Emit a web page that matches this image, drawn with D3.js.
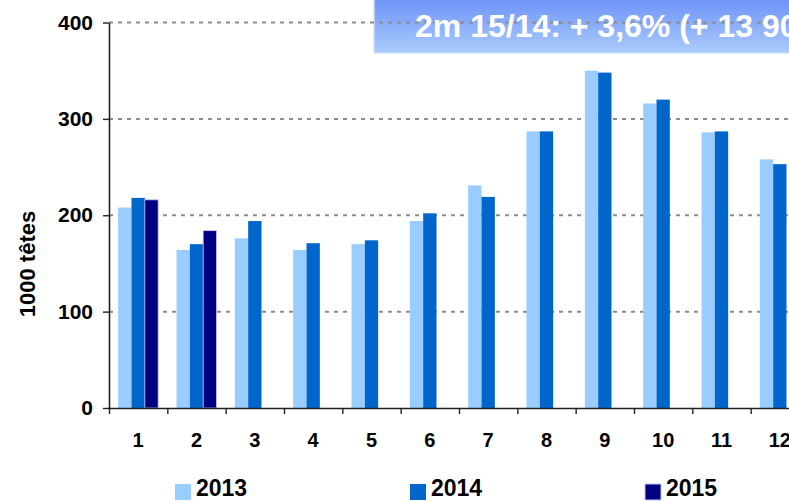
<!DOCTYPE html>
<html>
<head>
<meta charset="utf-8">
<script src="https://cdn.jsdelivr.net/npm/d3@7"></script>
<style>
  body { margin: 0; background: #fff; }
  svg { display: block; font-family: "Liberation Sans", Arial, sans-serif; }
</style>
</head>
<body>
<svg id="chart" width="789" height="501"></svg>
<script>
const months = ["1", "2", "3", "4", "5", "6", "7", "8", "9", "10", "11", "12"];
const years = ["2013", "2014", "2015"];
const v2013 = [208, 164, 176, 164, 170, 194, 231, 287, 350, 316, 286, 258];
const v2014 = [218, 170, 194, 171, 174, 202, 219, 287, 348, 320, 287, 253];
const v2015 = [216, 184];
const yTicks = [0, 100, 200, 300, 400];
const titleText = "2m 15/14: + 3,6% (+ 13 900 têtes)";
const colors = ["#99ccff", "#0066cc", "#000080"];

const series = [v2013, v2014, v2015];
const rows = [];
series.forEach((vals, s) => {
  vals.forEach((v, i) => rows.push({ month: months[i], year: years[s], value: v }));
});

const svg = d3.select("#chart");
const plotLeft = 109, plotRight = 809, plotTop = 22.5, plotBottom = 408;

const y = d3.scaleLinear().domain([0, 400]).range([plotBottom, plotTop]);
const x0 = d3.scaleBand().domain(months).range([plotLeft, plotRight])
  .paddingInner(0.315).paddingOuter(0.1575);
const x1 = d3.scaleBand().domain(years).range([0, x0.bandwidth()]);
const xEdge = d3.scaleLinear().domain([0, months.length]).range([plotLeft, plotRight]);
const color = d3.scaleOrdinal().domain(years).range(colors);

// title box
const defs = svg.append("defs");
const grad = defs.append("linearGradient").attr("id", "boxGrad")
  .attr("x1", 0).attr("y1", 0).attr("x2", 0).attr("y2", 1);
grad.append("stop").attr("offset", "0%").attr("stop-color", "#6c92f8");
grad.append("stop").attr("offset", "100%").attr("stop-color", "#aacbfc");

svg.append("rect")
  .attr("x", 374).attr("y", -3)
  .attr("width", 430).attr("height", 56)
  .attr("fill", "url(#boxGrad)")
  .attr("stroke", "#cfe0fe").attr("stroke-width", 1.5);

// gridlines
svg.append("g").selectAll("line")
  .data(yTicks.filter(d => d > 0))
  .enter().append("line")
  .attr("x1", plotLeft).attr("x2", 789)
  .attr("y1", d => y(d)).attr("y2", d => y(d))
  .attr("stroke", "#8c8c8c")
  .attr("stroke-width", 2)
  .attr("stroke-dasharray", "4,5");

svg.append("text")
  .attr("x", 415).attr("y", 37)
  .attr("fill", "#fff")
  .attr("font-size", 32).attr("font-weight", "bold")
  .text(titleText);

// bars
svg.append("g").selectAll("rect")
  .data(rows)
  .enter().append("rect")
  .attr("x", d => x0(d.month) + x1(d.year))
  .attr("y", d => y(d.value))
  .attr("width", x1.bandwidth())
  .attr("height", d => y(0) - y(d.value))
  .attr("fill", d => color(d.year))
  .attr("stroke", d => d.year == "2015" ? "#c4c4ec" : "none")
  .attr("stroke-width", 0.8);

// y axis
const yAxis = svg.append("g")
  .attr("transform", `translate(${plotLeft},0)`)
  .call(d3.axisLeft(y).tickValues(yTicks).tickSize(6).tickSizeOuter(0).tickPadding(10));
yAxis.select(".domain").attr("stroke", "#222").attr("stroke-width", 1.6);
yAxis.selectAll(".tick line").attr("stroke", "#222").attr("stroke-width", 1.4);
yAxis.selectAll("text")
  .attr("font-size", 21).attr("font-weight", "bold").attr("fill", "#000")
  .attr("font-family", "'Liberation Sans', Arial, sans-serif");

// x axis line + ticks between categories
const xAxis = svg.append("g")
  .attr("transform", `translate(0,${plotBottom})`)
  .call(d3.axisBottom(xEdge).tickValues(d3.range(0, months.length + 1))
    .tickFormat("").tickSize(6).tickSizeOuter(0));
xAxis.select(".domain").attr("stroke", "#222").attr("stroke-width", 1.6);
xAxis.selectAll(".tick line").attr("stroke", "#222").attr("stroke-width", 1.4);

const xLabels = svg.append("g")
  .attr("transform", `translate(0,${plotBottom})`)
  .call(d3.axisBottom(x0).tickSize(0).tickPadding(25));
xLabels.select(".domain").remove();
xLabels.selectAll("text")
  .attr("font-size", 20).attr("font-weight", "bold").attr("fill", "#000")
  .attr("font-family", "'Liberation Sans', Arial, sans-serif");

// y title
svg.append("text")
  .attr("transform", "translate(35,264) rotate(-90)")
  .attr("text-anchor", "middle")
  .attr("font-size", 22).attr("font-weight", "bold")
  .text("1000 têtes");

// legend
const legend = svg.append("g").selectAll("g")
  .data(years)
  .enter().append("g")
  .attr("transform", (d, i) => `translate(${175 + i * 235},484)`);
legend.append("rect")
  .attr("width", 16).attr("height", 16)
  .attr("fill", d => color(d))
  .attr("stroke", d => d == "2015" ? "#c4c4ec" : "none");
legend.append("text")
  .attr("x", 21).attr("y", 12)
  .attr("font-size", 23).attr("font-weight", "bold")
  .text(d => d);
</script>
</body>
</html>
